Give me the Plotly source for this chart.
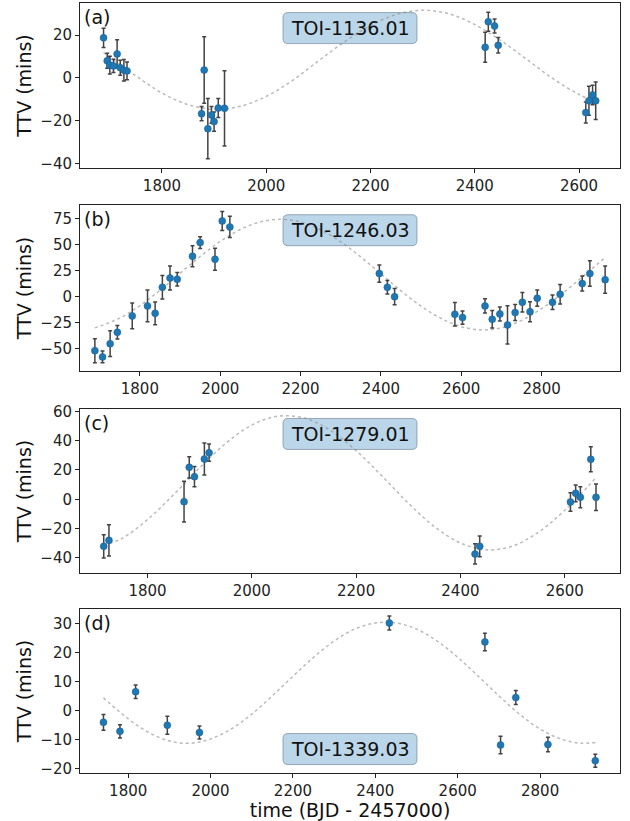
import plotly.graph_objects as go
from plotly.subplots import make_subplots

# ---------------- data ----------------
labels = ["TOI-1136.01", "TOI-1246.03", "TOI-1279.01", "TOI-1339.03"]
panel_tags = ["(a)", "(b)", "(c)", "(d)"]

t_a = [1688, 1695, 1700, 1707, 1714, 1720, 1727, 1733, 1876, 1881, 1888, 1895, 1900, 1908, 1920,
       2420, 2426, 2438, 2445, 2613, 2619, 2626, 2632]
ttv_a = [18.7, 8.0, 6.0, 5.6, 11.2, 4.8, 3.6, 3.3, -16.6, 3.7, -23.6, -17.2, -20.3, -14.0, -14.1,
         14.3, 26.2, 24.2, 15.2, -16.1, -10.6, -7.9, -10.6]
err_a = [4.5, 3.5, 4.1, 3.1, 6.6, 3.5, 5.0, 4.1, 3.3, 15.5, 14.0, 3.9, 4.5, 4.4, 17.5,
         7.0, 4.4, 3.3, 3.6, 4.9, 6.7, 4.5, 8.7]
model_t_a = [1688, 1750, 1800, 1850, 1900, 1950, 2000, 2050, 2100, 2150, 2200, 2250, 2300,
             2350, 2400, 2450, 2500, 2550, 2600, 2632]
model_a = [11.8, 1.0, -7.0, -12.4, -14.6, -13.2, -8.6, -1.2, 7.9, 16.8, 24.4, 29.6, 31.5,
           29.9, 24.9, 17.4, 8.6, -0.3, -7.7, -11.0]

t_b = [1688, 1707, 1726, 1744, 1781, 1819, 1838, 1856, 1875, 1893, 1931, 1950, 1987, 2005, 2024,
       2396, 2416, 2434, 2584, 2603, 2659, 2677, 2696, 2715, 2734, 2752, 2771, 2789, 2827, 2846,
       2901, 2920, 2958]
ttv_b = [-51.8, -57.8, -45.1, -34.2, -18.5, -8.9, -16.0, 9.0, 17.9, 16.7, 38.7, 51.8, 35.9, 72.6, 66.8,
         22.1, 9.0, 0.0, -16.9, -20.1, -8.9, -21.7, -16.6, -27.1, -15.3, -5.4, -14.4, -1.5, -5.4, 2.3,
         12.5, 22.1, 16.3]
err_b = [11.5, 5.6, 12.3, 6.5, 12.3, 15.2, 10.9, 11.2, 11.5, 6.4, 10.1, 5.6, 10.5, 9.1, 10.2,
         8.3, 6.4, 7.7, 11.2, 6.4, 6.9, 8.5, 6.7, 18.4, 7.7, 9.3, 9.6, 7.8, 6.9, 9.4,
         7.2, 12.2, 13.1]
model_t_b = [1688, 1750, 1800, 1850, 1900, 1950, 2000, 2050, 2100, 2150, 2200, 2250, 2300, 2350,
             2400, 2450, 2500, 2550, 2600, 2650, 2700, 2750, 2800, 2850, 2900, 2958]
model_b = [-30.0, -20.6, -8.6, 6.1, 22.4, 38.5, 53.0, 64.4, 71.7, 74.1, 71.4, 64.0, 52.5, 38.0,
           21.8, 5.5, -9.2, -21.0, -28.8, -31.9, -29.9, -22.8, -11.4, 2.5, 18.5, 37.5]

t_c = [1716, 1726, 1870, 1880, 1890, 1909, 1918, 2428, 2437, 2611, 2621, 2630, 2650, 2660]
ttv_c = [-32.1, -28.0, -1.6, 21.8, 15.4, 27.5, 31.8, -37.3, -32.1, -1.8, 4.1, 1.4, 27.3, 1.4]
err_c = [8.0, 10.7, 13.9, 7.2, 6.9, 11.0, 5.9, 6.9, 7.1, 6.3, 5.7, 7.1, 8.5, 9.1]
model_t_c = [1716, 1750, 1800, 1850, 1900, 1950, 2000, 2050, 2100, 2150, 2200, 2250, 2300, 2350,
             2400, 2450, 2500, 2550, 2600, 2660]
model_c = [-31.0, -26.9, -13.8, 3.2, 21.5, 38.2, 50.6, 56.7, 55.5, 47.2, 33.2, 15.7, -2.6, -18.6,
           -29.8, -34.5, -31.9, -22.3, -7.5, 14.8]

t_d = [1740, 1780, 1818, 1895, 1973, 2434, 2666, 2704, 2741, 2819, 2934]
ttv_d = [-4.0, -7.1, 6.5, -5.0, -7.5, 30.1, 23.6, -11.8, 4.5, -11.6, -17.2]
err_d = [2.7, 2.3, 2.3, 3.1, 2.2, 2.4, 3.0, 3.0, 2.4, 2.5, 2.2]
model_t_d = [1740, 1800, 1850, 1900, 1950, 2000, 2050, 2100, 2150, 2200, 2250, 2300, 2350, 2400,
             2450, 2500, 2550, 2600, 2650, 2700, 2750, 2800, 2850, 2900, 2934]
model_d = [4.4, -2.8, -7.5, -10.4, -11.2, -9.7, -6.3, -1.2, 5.1, 11.8, 18.3, 23.9, 28.0, 30.1,
           30.1, 28.0, 23.9, 18.3, 11.8, 5.1, -1.2, -6.3, -9.7, -11.2, -10.9]

x_ranges = [[1642.8, 2678.6], [1651, 2995], [1670.5, 2706], [1683, 2994]]
y_ranges = [[-41.9, 34.9], [-71.3, 87.9], [-50.3, 61.6], [-21.4, 34.9]]
y_dticks = [20, 25, 20, 10]
label_ypos = [0.848, 0.848, 0.848, 0.146]

# ---------------- figure ----------------
fig = make_subplots(rows=4, cols=1)

panels = [
    (t_a, ttv_a, err_a, model_t_a, model_a),
    (t_b, ttv_b, err_b, model_t_b, model_b),
    (t_c, ttv_c, err_c, model_t_c, model_c),
    (t_d, ttv_d, err_d, model_t_d, model_d),
]

FONT = "DejaVu Sans"
domains = [[0.7857, 1.0], [0.5221, 0.7377], [0.2597, 0.4727], [0.0, 0.2130]]

for i, (t, v, e, mt, mv) in enumerate(panels):
    row = i + 1
    fig.add_trace(go.Scatter(x=mt, y=mv, mode="lines", line_shape="spline",
                             line=dict(color="rgba(140,140,140,0.6)", width=1.5, dash="dot"),
                             hoverinfo="skip", showlegend=False), row=row, col=1)
    fig.add_trace(go.Scatter(x=t, y=v, mode="markers",
                             marker=dict(color="#1f77b4", size=7,
                                         line=dict(color="#1a5f8f", width=0.5)),
                             error_y=dict(type="data", array=e, visible=True,
                                          color="rgba(20,20,20,0.8)", thickness=1.5, width=2),
                             showlegend=False), row=row, col=1)

    xa = "xaxis" if i == 0 else f"xaxis{row}"
    ya = "yaxis" if i == 0 else f"yaxis{row}"
    xref = "x" if i == 0 else f"x{row}"
    yref = "y" if i == 0 else f"y{row}"

    fig.update_layout({
        xa: dict(domain=[0, 1], range=x_ranges[i], dtick=200, tick0=0, automargin=False,
                 showgrid=False, zeroline=False, showline=True, mirror=True,
                 linecolor="#222", linewidth=1, ticks="outside", ticklen=4,
                 tickcolor="#222", tickfont=dict(family=FONT, size=15, color="#222"),
                 anchor=yref),
        ya: dict(domain=domains[i], range=y_ranges[i], dtick=y_dticks[i], tick0=0,
                 automargin=False,
                 showgrid=False, zeroline=False, showline=True, mirror=True,
                 linecolor="#222", linewidth=1, ticks="outside", ticklen=4,
                 tickcolor="#222", tickfont=dict(family=FONT, size=15, color="#222"),
                 title=dict(text="TTV (mins)", font=dict(family=FONT, size=19, color="#111"),
                            standoff=3),
                 anchor=xref),
    })

    # rounded label box
    hw, hh, r = 67, 15.5, 5
    path = (f"M {-hw + r},{-hh} L {hw - r},{-hh} Q {hw},{-hh} {hw},{-hh + r} "
            f"L {hw},{hh - r} Q {hw},{hh} {hw - r},{hh} L {-hw + r},{hh} "
            f"Q {-hw},{hh} {-hw},{hh - r} L {-hw},{-hh + r} Q {-hw},{-hh} {-hw + r},{-hh} Z")
    fig.add_shape(type="path", path=path, xref=f"{xref} domain", yref=f"{yref} domain",
                  xsizemode="pixel", ysizemode="pixel", xanchor=0.5, yanchor=label_ypos[i],
                  fillcolor="rgba(31,119,180,0.3)", line=dict(color="rgba(90,110,135,0.55)", width=1),
                  layer="below")
    fig.add_annotation(x=0.5, y=label_ypos[i], xref=f"{xref} domain", yref=f"{yref} domain",
                       text=labels[i], showarrow=False, xanchor="center", yanchor="middle",
                       font=dict(family=FONT, size=19, color="#111"))
    fig.add_annotation(x=0.004, y=1, xref=f"{xref} domain", yref=f"{yref} domain",
                       text=panel_tags[i], showarrow=False, xanchor="left", yanchor="top",
                       yshift=-1, font=dict(family=FONT, size=19, color="#111"))

fig.update_layout(xaxis4_title=dict(text="time (BJD - 2457000)",
                                    font=dict(family=FONT, size=19, color="#111"), standoff=4))

fig.update_layout(width=630, height=821, margin=dict(l=80, r=10, t=3, b=48, autoexpand=False),
                  plot_bgcolor="white", paper_bgcolor="white", showlegend=False,
                  font=dict(family=FONT))

fig.write_html("out.html", config={"displayModeBar": False},
               post_script="document.body.style.margin='0px';document.body.style.overflow='hidden';")
